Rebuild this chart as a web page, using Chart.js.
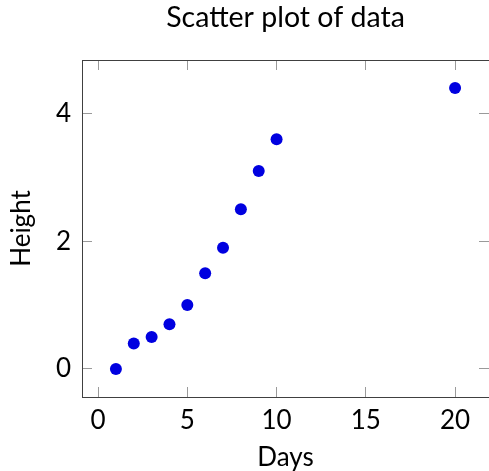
<!DOCTYPE html>
<html>
<head>
<meta charset="utf-8">
<script src="https://cdn.jsdelivr.net/npm/chart.js@4.4.0/dist/chart.umd.min.js"></script>
<style>
  html, body { margin: 0; padding: 0; background: #fff; overflow: hidden; }
  #wrap { width: 495px; height: 471px; }
</style>
</head>
<body>
<div id="wrap"><canvas id="chart" width="495" height="471"></canvas></div>
<script>
// data
const days = [1, 2, 3, 4, 5, 6, 7, 8, 9, 10, 20];
const heights = [0, 0.4, 0.5, 0.7, 1.0, 1.5, 1.9, 2.5, 3.1, 3.6, 4.4];
const xTicks = [0, 5, 10, 15, 20];
const yTicks = [0, 2, 4];

const FONT = 'Lato';
const tickGray = '#9a9a9a';
const borderGray = '#404040';

const points = days.map((d, i) => ({ x: d, y: heights[i] }));

// pgfplots-like limits: data range enlarged by 10% on both sides
const xMin = -0.9, xMax = 21.9;
const yMin = -0.44, yMax = 4.84;

function setTicks(list) {
  return (scale) => { scale.ticks = list.map(v => ({ value: v })); };
}

const innerGrid = {
  drawOnChartArea: false,
  drawTicks: true,
  tickLength: -10,
  tickColor: tickGray,
  tickWidth: 1
};
const frame = { display: true, color: borderGray, width: 1 };

new Chart(document.getElementById('chart'), {
  type: 'scatter',
  data: {
    datasets: [{
      label: 'data',
      data: points,
      backgroundColor: '#0000e0',
      borderWidth: 0,
      pointRadius: 6,
      pointHoverRadius: 6
    }]
  },
  options: {
    responsive: false,
    devicePixelRatio: 1,
    animation: false,
    layout: { padding: 0 },
    plugins: {
      legend: { display: false },
      tooltip: { enabled: false },
      title: { display: false }
    },
    scales: {
      x: {
        type: 'linear',
        position: 'bottom',
        min: xMin, max: xMax,
        afterBuildTicks: setTicks(xTicks),
        afterFit: (s) => { s.height = 74; },
        ticks: { color: '#000', padding: 18, font: { family: FONT, size: 26 } },
        grid: innerGrid,
        border: frame,
        title: {
          display: true, text: 'Days', color: '#000',
          font: { family: FONT, size: 26, lineHeight: 1.2 },
          padding: { top: 0, bottom: -2 }
        }
      },
      y: {
        type: 'linear',
        position: 'left',
        min: yMin, max: yMax,
        afterBuildTicks: setTicks(yTicks),
        afterFit: (s) => { s.width = 82; },
        ticks: { color: '#000', padding: 21, font: { family: FONT, size: 26 } },
        grid: innerGrid,
        border: frame,
        title: {
          display: true, text: 'Height', color: '#000',
          font: { family: FONT, size: 26, lineHeight: 1.2 },
          padding: { top: 6, bottom: 0 }
        }
      },
      // top axis: inner ticks plus the plot title, centred over the plot box
      x2: {
        type: 'linear',
        position: 'top',
        min: xMin, max: xMax,
        afterBuildTicks: setTicks(xTicks),
        afterFit: (s) => { s.height = 60; },
        ticks: { display: false },
        grid: innerGrid,
        border: frame,
        title: {
          display: true, text: 'Scatter plot of data', color: '#000',
          font: { family: FONT, size: 28.5, lineHeight: 1.2 },
          padding: { top: 1, bottom: 0 }
        }
      },
      y2: {
        type: 'linear',
        position: 'right',
        min: yMin, max: yMax,
        afterBuildTicks: setTicks(yTicks),
        afterFit: (s) => { s.width = 3; },
        ticks: { display: false },
        grid: innerGrid,
        border: frame
      }
    }
  }
});
</script>
</body>
</html>
